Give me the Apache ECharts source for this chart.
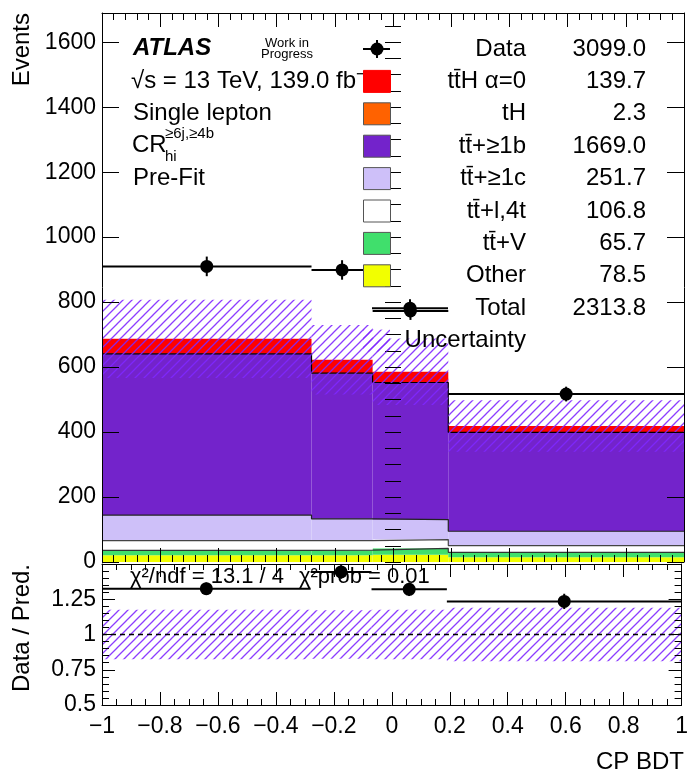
<!DOCTYPE html>
<html><head><meta charset="utf-8">
<script src="https://cdn.jsdelivr.net/npm/echarts@6/dist/echarts.min.js"></script>
<style>html,body{margin:0;padding:0;background:#fff}#c{width:691px;height:774px}</style>
</head><body><div id="c"></div>
<script>
// ---------- data ----------
const binEdges = [-1, -0.28, -0.07, 0.19, 1];
const dataCounts = [910, 899, 773, 517];
const dataErr = [30.2, 30.0, 27.8, 22.7];
const otherVals = [21, 21, 22, 14.5];
const ttVVals = [15, 15.5, 20, 15.2];
const ttLightVals = [29.5, 29.5, 27, 20.8];
const ttCVals = [79, 67, 61.5, 44.2];
const ttBVals = [495.5, 448, 421.5, 304];
const tHVals = [0.8, 0.5, 0.5, 0.5];
const ttHVals = [46.1, 41.1, 33, 19.5];
const relUnc = [0.175, 0.172, 0.175, 0.19];
const legendLabels = ['Data', 'tt\u0304H \u03b1=0', 'tH', 'tt\u0304+\u22651b', 'tt\u0304+\u22651c', 'tt\u0304+l,4t', 'tt\u0304+V', 'Other', 'Total', 'Uncertainty'];
const legendYields = ['3099.0', '139.7', '2.3', '1669.0', '251.7', '106.8', '65.7', '78.5', '2313.8', ''];
const xTickLabels = ['\u22121', '\u22120.8', '\u22120.6', '\u22120.4', '\u22120.2', '0', '0.2', '0.4', '0.6', '0.8', '1'];
const yTickLabels = ['0', '200', '400', '600', '800', '1000', '1200', '1400', '1600'];
const ratioTickLabels = ['0.5', '0.75', '1', '1.25'];

// ---------- styles ----------
const FONT = '"Liberation Sans", Arial, Helvetica, sans-serif';
const FS = 23;   // tick labels
const TFS = 24;  // annotation / legend text
const components = [
  {name: 'Other', vals: otherVals, color: '#f2ff00', line: null},
  {name: 'ttV', vals: ttVVals, color: '#40df6c', line: '#333'},
  {name: 'ttl', vals: ttLightVals, color: '#ffffff', line: '#444'},
  {name: 'ttc', vals: ttCVals, color: '#cec0f9', line: '#222'},
  {name: 'ttb', vals: ttBVals, color: '#7323cb', line: null},
  {name: 'tH', vals: tHVals, color: '#ff6200', line: '#000'},
  {name: 'ttH', vals: ttHVals, color: '#ff0000', line: null}
];
const legendColors = [null, '#ff0000', '#ff6200', '#7323cb', '#cec0f9', '#ffffff', '#40df6c', '#f2ff00'];

const hatchCanvas = (function () {
  const s = 9, c = document.createElement('canvas');
  c.width = s; c.height = s;
  const g = c.getContext('2d');
  g.strokeStyle = 'rgba(128,40,255,0.9)';
  g.lineWidth = 1.3;
  g.beginPath();
  g.moveTo(-1, s + 1); g.lineTo(s + 1, -1);
  g.moveTo(-1, 1); g.lineTo(1, -1);
  g.moveTo(s - 1, s + 1); g.lineTo(s + 1, s - 1);
  g.stroke();
  return c;
})();
const hatch = {image: hatchCanvas, repeat: 'repeat'};

// ---------- derived ----------
const nb = dataCounts.length;
const cum = new Array(nb).fill(0);
const series = [];
function rectRender(fill) {
  return function (params, api) {
    const p1 = api.coord([api.value(0), api.value(3)]);
    const p2 = api.coord([api.value(1), api.value(2)]);
    return {type: 'rect', shape: {x: p1[0], y: p1[1], width: p2[0] - p1[0], height: p2[1] - p1[1]}, style: {fill: fill}};
  };
}
components.forEach(function (comp, ci) {
  const rows = [];
  for (let i = 0; i < nb; i++) {
    rows.push([binEdges[i], binEdges[i + 1], cum[i], cum[i] + comp.vals[i]]);
    cum[i] += comp.vals[i];
  }
  series.push({type: 'custom', name: comp.name, xAxisIndex: 0, yAxisIndex: 0, z: 2 + ci * 0.01,
    renderItem: rectRender(comp.color), encode: {x: [0, 1], y: [2, 3]}, data: rows, silent: true});
  if (comp.line) {
    const pts = [];
    for (let i = 0; i < nb; i++) pts.push([binEdges[i], cum[i]]);
    pts.push([binEdges[nb], cum[nb - 1]]);
    series.push({type: 'line', xAxisIndex: 0, yAxisIndex: 0, step: 'end', data: pts, symbol: 'none', z: 3,
      lineStyle: {color: comp.line, width: 1.2}, silent: true});
  }
});
const total = cum.slice();
// uncertainty band
series.push({type: 'custom', xAxisIndex: 0, yAxisIndex: 0, z: 4, silent: true, renderItem: rectRender(hatch),
  encode: {x: [0, 1], y: [2, 3]},
  data: total.map(function (t, i) { return [binEdges[i], binEdges[i + 1], t * (1 - relUnc[i]), t * (1 + relUnc[i])]; })});
series.push({type: 'custom', xAxisIndex: 2, yAxisIndex: 6, z: 4, silent: true, renderItem: rectRender(hatch),
  encode: {x: [0, 1], y: [2, 3]},
  data: total.map(function (t, i) { return [binEdges[i], binEdges[i + 1], 1 - relUnc[i], 1 + relUnc[i]]; })});
// dashed unity line
series.push({type: 'line', xAxisIndex: 2, yAxisIndex: 6, data: [[-1, 1], [1, 1]], symbol: 'none', z: 5, silent: true,
  lineStyle: {color: '#000', width: 1.5, type: [5, 4]}});

function dataRender(params, api) {
  const xl = api.value(0), xh = api.value(1), xc = api.value(2), y = api.value(3), e = api.value(4);
  const a = api.coord([xl, y]), b = api.coord([xh, y]), c = api.coord([xc, y]);
  const t = api.coord([xc, y + e]), bt = api.coord([xc, y - e]);
  return {type: 'group', children: [
    {type: 'line', shape: {x1: a[0], y1: a[1], x2: b[0], y2: b[1]}, style: {stroke: '#000', lineWidth: 2}},
    {type: 'line', shape: {x1: c[0], y1: t[1], x2: c[0], y2: bt[1]}, style: {stroke: '#000', lineWidth: 2}},
    {type: 'circle', shape: {cx: c[0], cy: c[1], r: 6.5}, style: {fill: '#000'}}
  ]};
}
series.push({type: 'custom', xAxisIndex: 0, yAxisIndex: 0, z: 6, silent: true, renderItem: dataRender,
  encode: {x: [0, 1, 2], y: [3]},
  data: dataCounts.map(function (d, i) { return [binEdges[i], binEdges[i + 1], (binEdges[i] + binEdges[i + 1]) / 2, d, dataErr[i]]; })});
series.push({type: 'custom', xAxisIndex: 2, yAxisIndex: 6, z: 6, silent: true, renderItem: dataRender,
  encode: {x: [0, 1, 2], y: [3]},
  data: dataCounts.map(function (d, i) { return [binEdges[i], binEdges[i + 1], (binEdges[i] + binEdges[i + 1]) / 2, d / total[i], dataErr[i] / total[i]]; })});

// ---------- axes ----------
const labelStyle = {color: '#000', fontFamily: FONT, fontSize: FS};
function xAx(grid, pos, opts) {
  return Object.assign({type: 'value', gridIndex: grid, position: pos, min: -1, max: 1, interval: 0.2, z: 10,
    axisLine: {show: true, onZero: false, lineStyle: {color: '#000', width: 1}},
    axisTick: {show: true, inside: true, length: 14, lineStyle: {color: '#000'}},
    minorTick: {show: true, splitNumber: 5, length: 7, lineStyle: {color: '#000'}},
    axisLabel: {show: false}, splitLine: {show: false}, minorSplitLine: {show: false}}, opts || {});
}
function yAx(grid, pos, min, max, interval, tickLen, opts) {
  return Object.assign({type: 'value', gridIndex: grid, position: pos, min: min, max: max, interval: interval, z: 10,
    axisLine: {show: true, onZero: false, lineStyle: {color: '#000', width: 1}},
    axisTick: {show: true, inside: true, length: tickLen, lineStyle: {color: '#000'}},
    axisLabel: {show: false}, splitLine: {show: false}}, opts || {});
}
const xAxes = [
  xAx(0, 'bottom', {offset: 2, axisLine: {show: false}}),
  xAx(0, 'top'),
  xAx(1, 'bottom', {axisTick: {show: true, inside: true, length: 13, lineStyle: {color: '#000'}},
    minorTick: {show: true, splitNumber: 4, length: 6, lineStyle: {color: '#000'}},
    axisLabel: Object.assign({show: true, margin: 10, formatter: function (v) { return xTickLabels[Math.round((v + 1) / 0.2)]; }}, labelStyle)}),
  xAx(1, 'top', {axisTick: {show: true, inside: true, length: 13, lineStyle: {color: '#000'}},
    minorTick: {show: true, splitNumber: 4, length: 6, lineStyle: {color: '#000'}}})
];
const yAxes = [
  yAx(0, 'left', 0, 1690, 200, 17, {axisLabel: Object.assign({show: true, margin: 6, showMaxLabel: false,
    formatter: function (v) { return yTickLabels[Math.round(v / 200)]; }}, labelStyle)}),
  yAx(0, 'left', 0, 1690, 50, 8, {axisLine: {show: false}}),
  yAx(0, 'right', 0, 1690, 200, 17),
  yAx(0, 'right', 0, 1690, 50, 8, {axisLine: {show: false}}),
  yAx(1, 'left', 0.5, 1.5, 0.25, 13, {minorTick: {show: true, splitNumber: 5, length: 7, lineStyle: {color: '#000'}},
    axisLabel: Object.assign({show: true, margin: 6, showMaxLabel: false,
      formatter: function (v) { return ratioTickLabels[Math.round((v - 0.5) / 0.25)]; }}, labelStyle)}),
  yAx(1, 'right', 0.5, 1.5, 0.25, 13, {minorTick: {show: true, splitNumber: 5, length: 7, lineStyle: {color: '#000'}}}),
  yAx(1, 'left', 0.5, 1.5, 0.25, 0, {show: false})
];

// ---------- graphics: annotations + legend ----------
const g = [];
function txt(x, y, s, o) {
  g.push({type: 'text', x: x, y: y, z: 20, silent: true, rotation: (o && o.rot) || 0,
    style: {text: s, fill: '#000', font: ((o && o.font) || (TFS + 'px')) + ' ' + FONT,
      align: (o && o.align) || 'left', verticalAlign: 'middle'}});
}
txt(133, 48, 'ATLAS', {font: 'italic bold 24px'});
txt(287, 43, 'Work in', {font: '13px', align: 'center'});
txt(287, 54, 'Progress', {font: '13px', align: 'center'});
txt(131, 81, '\u221as = 13 TeV, 139.0 fb\u207b\u00b9');
txt(133, 113, 'Single lepton');
txt(132, 145, 'CR');
txt(165, 134, '\u22656j,\u22654b', {font: '15px'});
txt(165, 157, 'hi', {font: '15px'});
txt(133, 178, 'Pre-Fit');
txt(130, 577, '\u03c7\u00b2/ndf = 13.1 / 4', {font: '22px'});
txt(299, 577, '\u03c7\u00b2prob = 0.01', {font: '22px'});
txt(22, 13, 'Events', {rot: Math.PI / 2, align: 'right'});
txt(22, 628, 'Data / Pred.', {rot: Math.PI / 2, align: 'center'});
txt(684, 762, 'CP BDT', {align: 'right'});

const rowY0 = 49, rowDY = 32.4;
legendLabels.forEach(function (lab, i) {
  const y = rowY0 + i * rowDY;
  txt(526, y, lab, {align: 'right'});
  if (legendYields[i]) txt(646, y, legendYields[i], {align: 'right'});
  if (i >= 1 && i <= 7) {
    g.push({type: 'rect', z: 20, silent: true, shape: {x: 363.5, y: y - 11, width: 27, height: 22},
      style: {fill: legendColors[i], stroke: i === 1 ? '#ff0000' : '#555', lineWidth: 1}});
  }
});
function legMarker(x1, x2, xc, y) {
  g.push({type: 'line', z: 20, silent: true, shape: {x1: x1, y1: y, x2: x2, y2: y}, style: {stroke: '#000', lineWidth: 2}});
  g.push({type: 'line', z: 20, silent: true, shape: {x1: xc, y1: y - 9, x2: xc, y2: y + 9}, style: {stroke: '#000', lineWidth: 2}});
  g.push({type: 'circle', z: 20, silent: true, shape: {cx: xc, cy: y, r: 6.5}, style: {fill: '#000'}});
}
legMarker(363, 390, 377, rowY0);
legMarker(372, 448, 410, rowY0 + 8 * rowDY);
g.push({type: 'rect', z: 20, silent: true, shape: {x: 363, y: rowY0 + 9 * rowDY - 11, width: 27, height: 22}, style: {fill: hatch}});

const chart = echarts.init(document.getElementById('c'), null, {renderer: 'canvas'});
chart.setOption({
  animation: false,
  backgroundColor: '#fff',
  grid: [
    {left: 102, top: 13, width: 582, height: 549},
    {left: 102, top: 564, width: 582, height: 141}
  ],
  xAxis: xAxes,
  yAxis: yAxes,
  series: series,
  graphic: g
});
</script></body></html>
